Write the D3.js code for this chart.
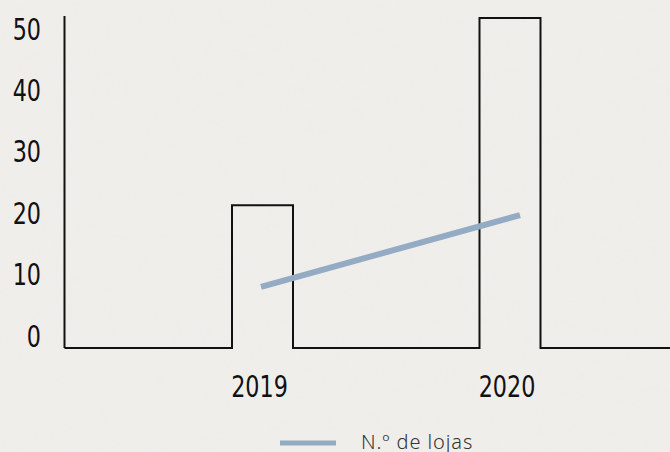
<!DOCTYPE html>
<html>
<head>
<meta charset="utf-8">
<script src="https://cdn.jsdelivr.net/npm/d3@7"></script>
<style>
  html, body { margin: 0; padding: 0; background: #eeece9; overflow: hidden; }
  .cond { font-family: "DejaVu Sans Condensed", "DejaVu Sans", sans-serif; font-stretch: condensed; }
</style>
</head>
<body>
<script>
// data
var years = ["2019", "2020"];
var barValues = [21.3, 51.8];
var lineValues = [8, 19.7];
var yTicks = [0, 10, 20, 30, 40, 50];
var legendLabel = "N.º de lojas";

var W = 670, H = 452;
var svg = d3.select("body").append("svg")
  .attr("width", W)
  .attr("height", H)
  .attr("viewBox", "0 0 " + W + " " + H);

// paper texture
var defs = svg.append("defs");
var f = defs.append("filter").attr("id", "paper").attr("x", 0).attr("y", 0).attr("width", "100%").attr("height", "100%");
f.append("feTurbulence").attr("type", "fractalNoise").attr("baseFrequency", 0.06).attr("numOctaves", 4).attr("seed", 4).attr("result", "n");
f.append("feColorMatrix").attr("type", "matrix")
  .attr("values", "0 0 0 0 0.85  0 0 0 0 0.84  0 0 0 0 0.82  0 0 0 -1.4 0.9");
svg.append("rect").attr("width", W).attr("height", H).attr("fill", "#f0eeeb");
svg.append("rect").attr("width", W).attr("height", H).attr("filter", "url(#paper)").attr("opacity", 0.5);

var baseY = 348;
var y = d3.scaleLinear().domain([0, 50]).range([336, 29]);
var x = d3.scalePoint().domain(years).range([262.5, 510]);
var bw = 61;
var xLine = d3.scalePoint().domain(years).range([261, 520]);

// y axis
svg.append("line")
  .attr("x1", 64.5).attr("x2", 64.5)
  .attr("y1", 16).attr("y2", baseY)
  .attr("stroke", "#111").attr("stroke-width", 2);

// condensed digits: squeeze horizontally
var sx = 0.84;
svg.selectAll("text.ytick").data(yTicks).enter().append("text")
  .attr("class", "ytick cond")
  .attr("transform", function (d) { return "translate(41," + y(d) + ") scale(" + sx + ",1)"; })
  .attr("dy", "0.36em")
  .attr("text-anchor", "end")
  .attr("font-size", 29.5)
  .attr("fill", "#111")
  .text(function (d) { return d; });

// step outline of the bars along baseline
var pts = [[64.5, baseY]];
years.forEach(function (yr, i) {
  var x0 = x(yr) - bw / 2, x1 = x(yr) + bw / 2;
  pts.push([x0, baseY], [x0, y(barValues[i])], [x1, y(barValues[i])], [x1, baseY]);
});
pts.push([W, baseY]);

svg.append("path")
  .attr("d", d3.line()(pts))
  .attr("fill", "none")
  .attr("stroke", "#111")
  .attr("stroke-width", 2);

// x labels
svg.selectAll("text.xtick").data(years).enter().append("text")
  .attr("class", "xtick cond")
  .attr("transform", function (d) { return "translate(" + (x(d) - 3) + ",386) scale(" + sx + ",1)"; })
  .attr("dy", "0.36em")
  .attr("text-anchor", "middle")
  .attr("font-size", 29.5)
  .attr("fill", "#111")
  .text(function (d) { return d; });

// line series
svg.append("path")
  .datum(lineValues)
  .attr("d", d3.line()
    .x(function (d, i) { return xLine(years[i]); })
    .y(function (d) { return y(d); }))
  .attr("fill", "none")
  .attr("stroke", "#94abc4")
  .attr("stroke-width", 6);

// legend
svg.append("line")
  .attr("x1", 280).attr("x2", 336)
  .attr("y1", 443).attr("y2", 443)
  .attr("stroke", "#94abc4")
  .attr("stroke-width", 5);

svg.append("text")
  .attr("x", 361)
  .attr("y", 449)
  .attr("font-family", "'Noto Sans', sans-serif")
  .attr("font-weight", 300)
  .attr("font-size", 20)
  .attr("letter-spacing", 0.9)
  .attr("fill", "#333")
  .text(legendLabel);
</script>
</body>
</html>
